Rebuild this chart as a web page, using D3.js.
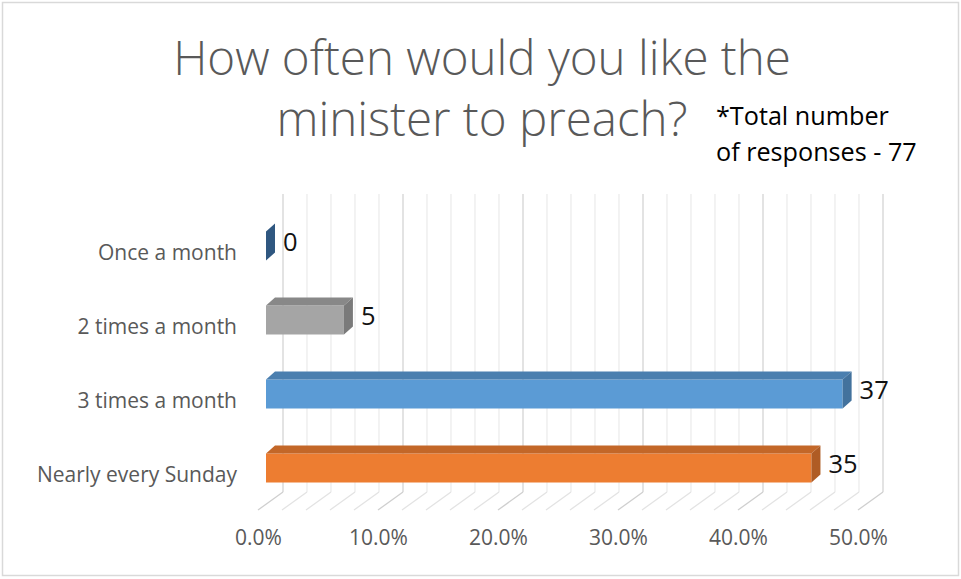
<!DOCTYPE html>
<html>
<head>
<meta charset="utf-8">
<script src="https://cdn.jsdelivr.net/npm/d3@7"></script>
<style>
  body { margin: 0; background: #fff; }
  svg { display: block; }
</style>
</head>
<body>
<script>
// data
var categories = ['Once a month', '2 times a month', '3 times a month', 'Nearly every Sunday'];
var counts = [0, 5, 37, 35];
var totalResponses = 77;
var barColors = ['#3f76ad', '#a5a5a5', '#5b9bd5', '#ed7d31'];
var titleLines = ['How often would you like the', 'minister to preach?'];
var noteLines = ['*Total number', 'of responses - 77'];
var tickValues = [0, 10, 20, 30, 40, 50];

var width = 961, height = 579;
var depthX = 9, depthY = -8;   // 3d offset of the bars
var barH = 29;

var svg = d3.select('body').append('svg')
    .attr('width', width)
    .attr('height', height);

svg.append('rect')
    .attr('x', 2.5).attr('y', 2.5)
    .attr('width', 956).attr('height', 573)
    .attr('fill', '#fff')
    .attr('stroke', '#d9d9d9')
    .attr('stroke-width', 1.5);

// back wall / floor / bar planes
var xBack  = d3.scaleLinear().domain([0, 50]).range([283, 883]);
var xFloor = d3.scaleLinear().domain([0, 50]).range([258, 858]);
var xBar   = d3.scaleLinear().domain([0, 50]).range([266, 866]);
var y = d3.scalePoint().domain(categories).range([209, 505]).padding(0.5);

var wallTop = 194, wallBottom = 492, floorFront = 510;
var grid = d3.range(0, 50.1, 2);

svg.append('g').selectAll('line.wall')
    .data(grid)
    .enter().append('line')
        .attr('x1', function (d) { return xBack(d); })
        .attr('x2', function (d) { return xBack(d); })
        .attr('y1', wallTop)
        .attr('y2', wallBottom)
        .attr('stroke', function (d) { return d % 10 == 0 ? '#d4d4d4' : '#ececec'; })
        .attr('stroke-width', 1.3);

svg.append('g').selectAll('line.floor')
    .data(grid)
    .enter().append('line')
        .attr('x1', function (d) { return xBack(d); })
        .attr('y1', wallBottom)
        .attr('x2', function (d) { return xFloor(d); })
        .attr('y2', floorFront)
        .attr('stroke', function (d) { return d % 10 == 0 ? '#cfcfcf' : '#e3e3e3'; })
        .attr('stroke-width', 1.3);

// bars
var data = categories.map(function (c, i) {
    return { name: c, count: counts[i], pct: counts[i] / totalResponses * 100, color: barColors[i] };
});

var bars = svg.append('g').selectAll('g')
    .data(data)
    .enter().append('g');

bars.append('rect')
    .attr('x', xBar(0))
    .attr('y', function (d) { return y(d.name) - barH / 2; })
    .attr('width', function (d) { return xBar(d.pct) - xBar(0); })
    .attr('height', barH)
    .attr('fill', function (d) { return d.color; });

bars.append('path')
    .attr('d', function (d) {
        var x0 = xBar(0), x1 = xBar(d.pct), t = y(d.name) - barH / 2;
        return 'M' + x0 + ',' + t + 'L' + (x0 + depthX) + ',' + (t + depthY) +
               'L' + (x1 + depthX) + ',' + (t + depthY) + 'L' + x1 + ',' + t + 'Z';
    })
    .attr('fill', function (d) { return d3.color(d.color).darker(0.55); });

bars.append('path')
    .attr('d', function (d) {
        var x1 = xBar(d.pct), t = y(d.name) - barH / 2, b = t + barH;
        return 'M' + x1 + ',' + t + 'L' + (x1 + depthX) + ',' + (t + depthY) +
               'L' + (x1 + depthX) + ',' + (b + depthY) + 'L' + x1 + ',' + b + 'Z';
    })
    .attr('fill', function (d) { return d3.color(d.color).darker(0.85); });

bars.append('text')
    .attr('x', function (d) { return xBar(d.pct) + depthX + 8; })
    .attr('y', function (d) { return y(d.name) + 5; })
    .attr('font-family', 'Open Sans')
    .attr('font-size', 25.5)
    .attr('fill', '#111')
    .text(function (d) { return d.count; });

// category labels
svg.append('g').selectAll('text')
    .data(categories)
    .enter().append('text')
        .attr('x', 237)
        .attr('y', function (d) { return y(d) + 14; })
        .attr('text-anchor', 'end')
        .attr('font-family', 'Open Sans')
        .attr('font-size', 21)
        .attr('fill', '#595959')
        .text(function (d) { return d; });

// x axis labels
var xAxis = svg.append('g')
    .attr('transform', 'translate(0,' + 530 + ')')
    .call(d3.axisBottom(xFloor)
        .tickValues(tickValues)
        .tickSize(0)
        .tickPadding(0)
        .tickFormat(function (d) { return d3.format('.1f')(d) + '%'; }));
xAxis.select('.domain').remove();
xAxis.selectAll('text')
    .attr('font-family', 'Open Sans')
    .attr('font-size', 21)
    .attr('fill', '#595959');

// title
svg.append('g').selectAll('text')
    .data(titleLines)
    .enter().append('text')
        .attr('x', 482)
        .attr('y', function (d, i) { return 75 + i * 61; })
        .attr('text-anchor', 'middle')
        .attr('font-family', 'Open Sans')
        .attr('font-weight', 300)
        .attr('font-size', 47.5)
        .attr('fill', '#595959')
        .text(function (d) { return d; });

// note
svg.append('g').selectAll('text')
    .data(noteLines)
    .enter().append('text')
        .attr('x', 716)
        .attr('y', function (d, i) { return 125 + i * 36; })
        .attr('font-family', 'Open Sans')
        .attr('font-size', 25.2)
        .attr('fill', '#000')
        .text(function (d) { return d; });
</script>
</body>
</html>
